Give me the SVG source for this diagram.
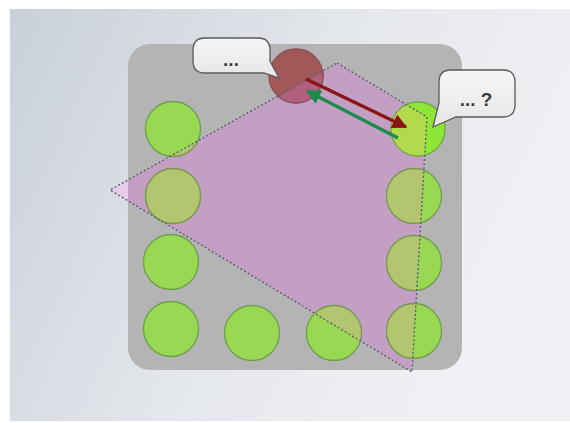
<svg xmlns="http://www.w3.org/2000/svg" width="570" height="423" viewBox="0 0 570 423">
  <defs>
    <linearGradient id="bg" x1="0" y1="0" x2="1" y2="0.35">
      <stop offset="0" stop-color="#c9d0d9"/>
      <stop offset="0.55" stop-color="#e4e7ec"/>
      <stop offset="1" stop-color="#f0f1f4"/>
    </linearGradient>
    <linearGradient id="bubble" x1="0" y1="0" x2="0" y2="1">
      <stop offset="0" stop-color="#f6f6f6"/>
      <stop offset="1" stop-color="#e6e6e6"/>
    </linearGradient>
    <clipPath id="zoneClip">
      <polygon points="337,63 427,117 412,372 110,190"/>
    </clipPath>
    <marker id="headRed" viewBox="0 0 10 10" refX="9" refY="5" markerWidth="4.4" markerHeight="4.4" orient="auto" markerUnits="strokeWidth">
      <path d="M0,0 L10,5 L0,10 Z" fill="#8b1515"/>
    </marker>
    <marker id="headGreen" viewBox="0 0 10 10" refX="9" refY="5" markerWidth="4.4" markerHeight="4.4" orient="auto" markerUnits="strokeWidth">
      <path d="M0,0 L10,5 L0,10 Z" fill="#1d8a4e"/>
    </marker>
    <style>
      .dot { fill: #98d852; stroke: #6f9f4c; stroke-width: 1.3; }
      .dot-in { fill: #b3c56f; stroke: #7a9a55; stroke-width: 1.3; clip-path: url(#zoneClip); }
      .bright { fill: #8ee636; stroke: #6fa84a; stroke-width: 1.3; }
      .bright-in { fill: #b2da4c; stroke: #7fa652; stroke-width: 1.3; clip-path: url(#zoneClip); }
      .red { fill: #a35858; stroke: #875050; stroke-width: 1.3; }
      .red-in { fill: #b0607e; stroke: #8a5060; stroke-width: 1.3; clip-path: url(#zoneClip); }
      .bubble { fill: url(#bubble); stroke: #5a5a5a; stroke-width: 1.3; }
      .label { font-family: "Liberation Sans", Arial, sans-serif; font-weight: bold; font-size: 19px; fill: #3a3a3a; text-anchor: middle; }
      .zone-fill { fill: #c29fc3; }
      .zone-line { fill: none; stroke: #555a66; stroke-width: 1.3; stroke-dasharray: 2 2.2; }
    </style>
  </defs>

  <!-- page -->
  <rect x="0" y="0" width="570" height="423" fill="#ffffff"/>
  <rect x="10" y="9" width="560" height="412" fill="url(#bg)"/>

  <!-- board -->
  <rect id="board" x="128" y="44" width="334" height="326" rx="22" fill="#b4b4b4"/>

  <!-- zone fill: solid on the board, light tint where it leaves the board -->
  <polygon points="337,63 427,117 412,372 110,190" fill="#e6cce8"/>
  <g clip-path="url(#zoneClip)">
    <rect class="zone-fill" x="128" y="44" width="334" height="326" rx="22"/>
  </g>

  <!-- players -->
  <g id="p1"><circle class="dot" cx="173" cy="129" r="27.5"/><circle class="dot-in" cx="173" cy="129" r="27.5"/></g>
  <g id="p2"><circle class="dot" cx="173" cy="196" r="27.5"/><circle class="dot-in" cx="173" cy="196" r="27.5"/></g>
  <g id="p3"><circle class="dot" cx="171" cy="262" r="27.5"/><circle class="dot-in" cx="171" cy="262" r="27.5"/></g>
  <g id="p4"><circle class="dot" cx="171" cy="329" r="27.5"/><circle class="dot-in" cx="171" cy="329" r="27.5"/></g>
  <g id="p5"><circle class="dot" cx="252" cy="333" r="27.5"/><circle class="dot-in" cx="252" cy="333" r="27.5"/></g>
  <g id="p6"><circle class="dot" cx="334" cy="333" r="27.5"/><circle class="dot-in" cx="334" cy="333" r="27.5"/></g>
  <g id="p7"><circle class="dot" cx="414" cy="331" r="27.5"/><circle class="dot-in" cx="414" cy="331" r="27.5"/></g>
  <g id="p8"><circle class="dot" cx="414" cy="263" r="27.5"/><circle class="dot-in" cx="414" cy="263" r="27.5"/></g>
  <g id="p9"><circle class="dot" cx="414" cy="196" r="27.5"/><circle class="dot-in" cx="414" cy="196" r="27.5"/></g>
  <g id="p10"><circle class="bright" cx="418" cy="129" r="27"/><circle class="bright-in" cx="418" cy="129" r="27"/></g>
  <g id="speaker"><circle class="red" cx="296" cy="76" r="27"/><circle class="red-in" cx="296" cy="76" r="27"/></g>

  <!-- dashed zone outline -->
  <polygon id="zone" class="zone-line" points="337,63 427,117 412,372 110,190"/>

  <!-- speech bubbles -->
  <g id="bubble-left">
    <path class="bubble" d="M205,38 H258 Q270,38 270,50 V61 L279,78 L264,73 H205 Q193,73 193,61 V50 Q193,38 205,38 Z"/>
    <text class="label" x="231" y="66">...</text>
  </g>
  <g id="bubble-right">
    <path class="bubble" d="M451,70 H503 Q515,70 515,82 V105 Q515,117 503,117 H456 L433,127 L439,103 V82 Q439,70 451,70 Z"/>
    <text class="label" x="476" y="106">... ?</text>
  </g>

  <!-- connectors -->
  <g id="connectors">
    <line x1="306" y1="79" x2="406" y2="127" stroke="#8b1515" stroke-width="3.4" marker-end="url(#headRed)"/>
    <line x1="398" y1="138" x2="307" y2="91" stroke="#1d8a4e" stroke-width="3.4" marker-end="url(#headGreen)"/>
  </g>
</svg>
